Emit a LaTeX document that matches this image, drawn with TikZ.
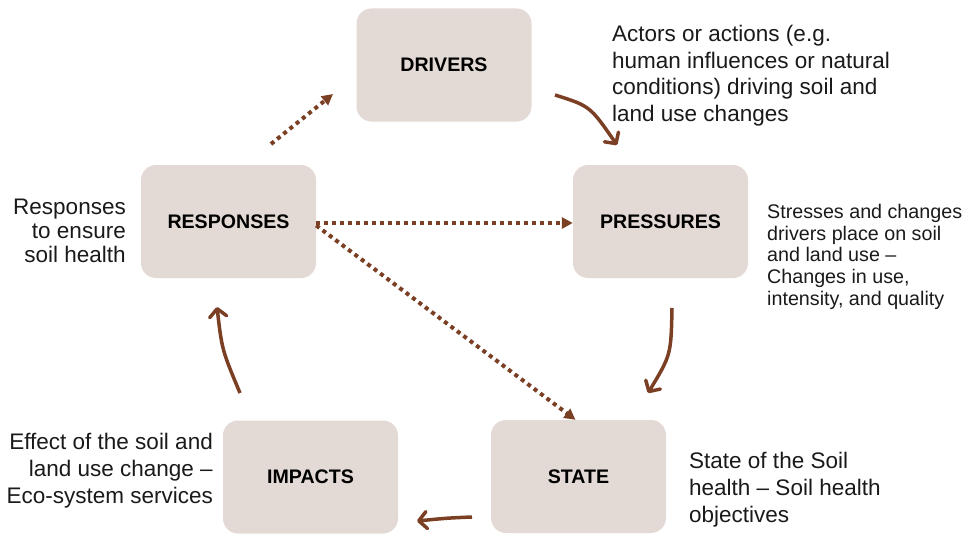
\documentclass[tikz,border=0pt]{standalone}
\usepackage{fontspec}
\setmainfont{Liberation Sans}
\usetikzlibrary{arrows.meta}
\definecolor{arrowbrown}{RGB}{123,63,36}
\definecolor{boxfill}{RGB}{227,218,213}
\definecolor{txt}{RGB}{26,26,26}
\begin{document}
\begin{tikzpicture}[x=1pt,y=-1pt,
  box/.style={rectangle, rounded corners=15pt, fill=boxfill, draw=none,
    minimum width=175pt, minimum height=113pt, inner sep=0pt,
    font=\fontsize{19.6}{22}\selectfont\bfseries, text=black},
  lbl/.style={inner sep=0pt, text=txt, font=\fontsize{22.5}{26.5}\selectfont},
  flow/.style={draw=arrowbrown, line width=3.5pt,
    -{Straight Barb[length=8pt,width=17pt,line width=3.5pt,round]}},
  dotflow/.style={draw=arrowbrown, line width=4pt, dash pattern=on 4pt off 4pt,
    -{Triangle[length=11pt,width=11pt]}}
]
\useasboundingbox (0,0) rectangle (974,535);

\node[box] (drivers) at (444,65) {DRIVERS};
\node[box] (pressures) at (660.5,221.5) {PRESSURES};
\node[box] (responses) at (228.5,221.5) {RESPONSES};
\node[box] (state) at (578.5,476.5) {STATE};
\node[box] (impacts) at (310.5,477) {IMPACTS};

\node[lbl, anchor=north west, align=left] (driverstext) at (612,25)
  {Actors or actions (e.g.\\human influences or natural\\conditions) driving soil and\\land use changes};
\node[lbl, anchor=north west, align=left, font=\fontsize{19.7}{21.7}\selectfont] (pressurestext) at (767,204)
  {Stresses and changes\\drivers place on soil\\and land use \textendash\\Changes in use,\\intensity, and quality};
\node[lbl, anchor=north west, align=left, font=\fontsize{22.5}{27}\selectfont] (statetext) at (689,451.5)
  {State of the Soil\\health \textendash{} Soil health\\objectives};
\node[lbl, anchor=north east, align=right, font=\fontsize{22.5}{24}\selectfont] (responsestext) at (126,199)
  {Responses\\to ensure\\soil health};
\node[lbl, anchor=north east, align=right, font=\fontsize{22.5}{27}\selectfont] (impactstext) at (213,433)
  {Effect of the soil and\\land use change \textendash\\Eco-system services};

\coordinate (dp1) at (555,95);  \coordinate (dp2) at (617,145);
\coordinate (ps1) at (672,308); \coordinate (ps2) at (648,393);
\coordinate (si1) at (472,517); \coordinate (si2) at (417,521);
\coordinate (ir1) at (240,393); \coordinate (ir2) at (217,307);
\coordinate (rd1) at (271,144); \coordinate (rd2) at (333,94);

\draw[flow] (dp1) .. controls (590,106) .. (dp2);
\draw[flow] (ps1) .. controls (671,355) .. (ps2);
\draw[flow] (si1) .. controls (448,518) .. (si2);
\draw[flow] (ir1) .. controls (222,350) .. (ir2);

\draw[dotflow] (rd1) -- (rd2);
\draw[dotflow] ([yshift=-1.5pt]responses.east) -- ([yshift=-1.5pt]pressures.west);
\draw[dotflow] ([yshift=-4pt]responses.east) -- ([xshift=-3pt]state.north);
\end{tikzpicture}
\end{document}
